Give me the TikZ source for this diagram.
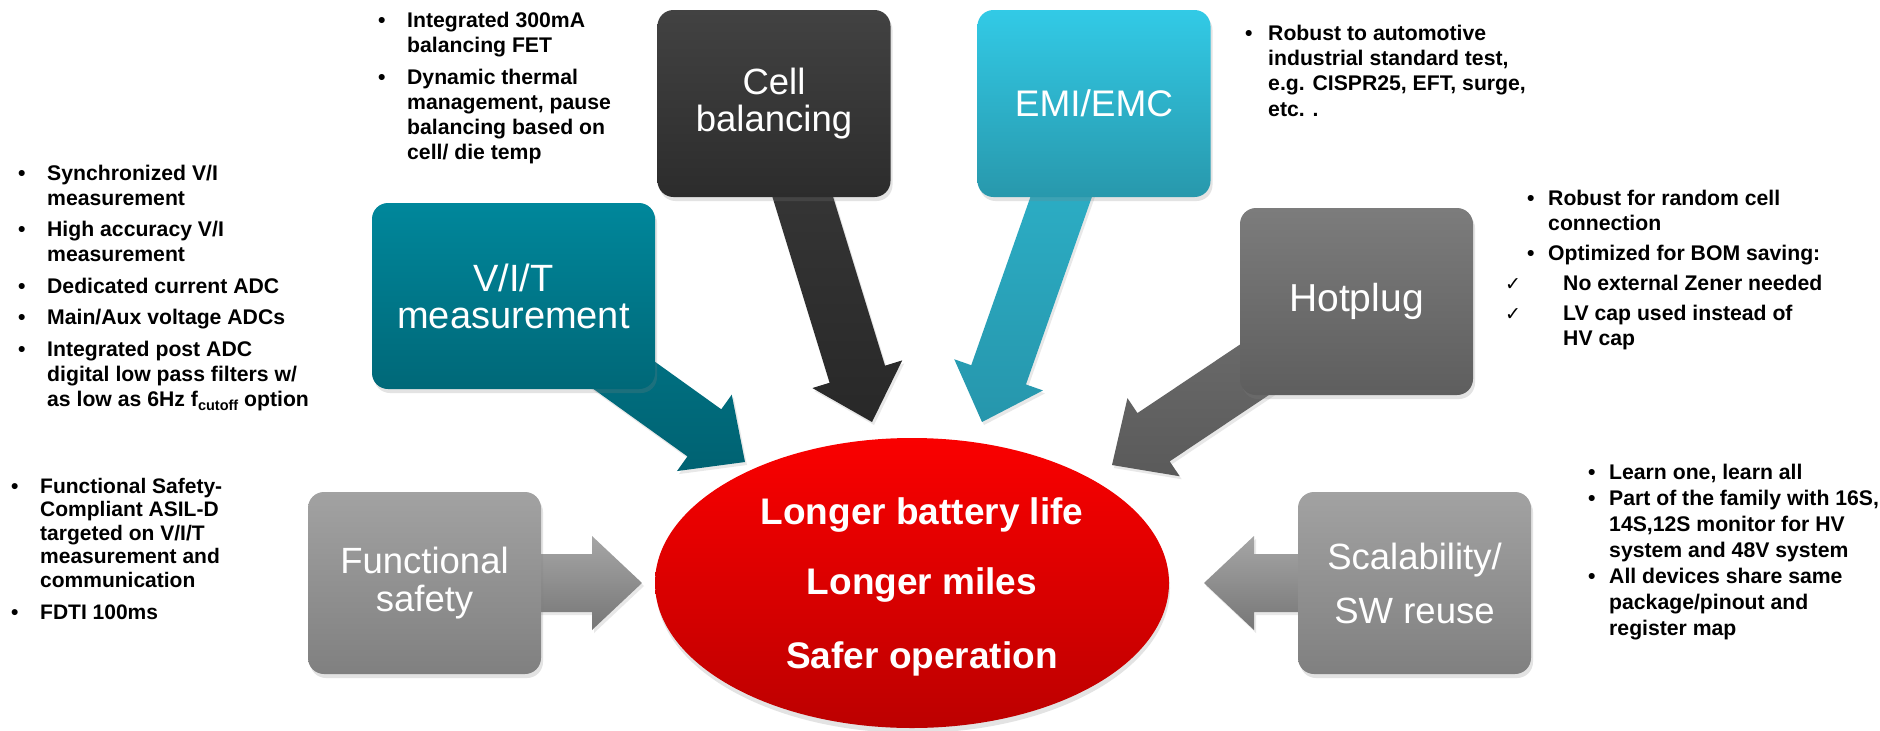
\documentclass[tikz,border=0pt]{standalone}
\usepackage{fontspec}
\setmainfont{Liberation Sans}
\newfontfamily\symfont{DejaVu Sans}
\usetikzlibrary{calc,shadows,shapes.geometric}
\pgfdeclarelayer{background}
\pgfsetlayers{background,main}

% box and arrow colours
\definecolor{vitTop}{RGB}{0,135,155}
\definecolor{vitBot}{RGB}{0,104,120}
\definecolor{vitArrA}{RGB}{0,122,140}
\definecolor{vitArrB}{RGB}{0,98,114}
\definecolor{cellTop}{RGB}{66,66,66}
\definecolor{cellBot}{RGB}{44,44,44}
\definecolor{cellArrA}{RGB}{58,58,58}
\definecolor{cellArrB}{RGB}{40,40,40}
\definecolor{emiTop}{RGB}{50,202,230}
\definecolor{emiBot}{RGB}{40,152,172}
\definecolor{emiArrA}{RGB}{46,182,206}
\definecolor{emiArrB}{RGB}{38,150,172}
\definecolor{hotTop}{RGB}{124,124,124}
\definecolor{hotBot}{RGB}{94,94,94}
\definecolor{hotArrA}{RGB}{112,112,112}
\definecolor{hotArrB}{RGB}{90,90,90}
\definecolor{greyTop}{RGB}{162,162,162}
\definecolor{greyBot}{RGB}{128,128,128}
\definecolor{greyArrA}{RGB}{166,166,166}
\definecolor{greyArrB}{RGB}{118,118,118}
\definecolor{goalTop}{RGB}{250,0,0}
\definecolor{goalBot}{RGB}{188,0,0}

% wide block arrow from the centre of node #1 to coordinate #2
\newcommand\blockarrow[3]{%
  \coordinate (#1-#2-base) at ($(#2)!50pt!(#1.center)$);
  \path[#3] ($(#1.center)!29pt!90:(#2)$)
    -- ($(#1-#2-base)!29pt!90:(#2)$)
    -- ($(#1-#2-base)!47pt!90:(#2)$)
    -- (#2)
    -- ($(#1-#2-base)!47pt!-90:(#2)$)
    -- ($(#1-#2-base)!29pt!-90:(#2)$)
    -- ($(#1.center)!29pt!-90:(#2)$) -- cycle;
}
\newcommand\itm[1]{\makebox[#1][l]{•}}
\newcommand\chk[1]{\makebox[#1][l]{\symfont\fontsize{19}{19}\selectfont ✓}}

\begin{document}
\begin{tikzpicture}[x=1pt,y=-1pt,
  box/.style={rectangle, rounded corners=16pt, inner sep=0pt, align=center,
    text=white, minimum width=233pt, minimum height=187pt,
    drop shadow={shadow xshift=2pt, shadow yshift=-4pt, opacity=0.22}},
  arrshadow/.style={drop shadow={shadow xshift=2pt, shadow yshift=-3pt, opacity=0.18}},
  notes/.style={anchor=north west, inner sep=0pt, align=left},
  goalline/.style={anchor=base, text=white, font=\bfseries\fontsize{37}{40}\selectfont}
]
\useasboundingbox (0,0) rectangle (1880,731);

% feature boxes
\node[box, minimum width=283pt, minimum height=186pt, top color=vitTop, bottom color=vitBot,
  font=\fontsize{38}{37}\selectfont] (vit) at (513.5,296) {V/I/T\\measurement};
\node[box, top color=cellTop, bottom color=cellBot,
  font=\fontsize{36.5}{37}\selectfont] (cell) at (774,103.5) {Cell\\balancing};
\node[box, top color=emiTop, bottom color=emiBot,
  font=\fontsize{37}{38}\selectfont] (emi) at (1094,103.5) {EMI/EMC};
\node[box, top color=hotTop, bottom color=hotBot,
  font=\fontsize{39}{40}\selectfont] (hot) at (1356.5,301.5) {Hotplug};
\node[box, minimum height=182pt, top color=greyTop, bottom color=greyBot,
  font=\fontsize{36.5}{38}\selectfont] (fs) at (424.5,583) {Functional\\safety};
\node[box, minimum height=182pt, top color=greyTop, bottom color=greyBot,
  font=\fontsize{36.5}{38}\selectfont] (sc) at (1414.5,583) {Scalability/\\[16pt]SW reuse};

% arrow tips
\coordinate (tipvit) at (745,462);
\coordinate (tipcell) at (872,422);
\coordinate (tipemi) at (982,422);
\coordinate (tiphot) at (1112,465);
\coordinate (tipfs) at (642,583);
\coordinate (tipsc) at (1204,583);

\begin{pgfonlayer}{background}
  \fill[white] (0,0) rectangle (1880,731);
  \blockarrow{vit}{tipvit}{arrshadow, top color=vitArrA, bottom color=vitArrB}
  \blockarrow{cell}{tipcell}{arrshadow, top color=cellArrA, bottom color=cellArrB}
  \blockarrow{emi}{tipemi}{arrshadow, top color=emiArrA, bottom color=emiArrB}
  \blockarrow{hot}{tiphot}{arrshadow, top color=hotArrA, bottom color=hotArrB}
  \blockarrow{fs}{tipfs}{arrshadow, top color=greyArrA, bottom color=greyArrB}
  \blockarrow{sc}{tipsc}{arrshadow, top color=greyArrA, bottom color=greyArrB}
\end{pgfonlayer}

% central goal
\node[ellipse, inner sep=0pt, minimum width=514pt, minimum height=290pt,
  top color=goalTop, bottom color=goalBot,
  drop shadow={shadow xshift=1pt, shadow yshift=-5pt, opacity=0.22}] (goal) at (912,583) {};
\node[goalline] (goal1) at (922,524) {Longer battery life};
\node[goalline] (goal2) at (922,594) {Longer miles};
\node[goalline] (goal3) at (922,668) {Safer operation};

% notes
\node[notes, font=\bfseries\fontsize{21.2}{25}\selectfont] (vitnotes) at (18,162.5) {%
\begin{tabular}{@{}l@{}}
\itm{29pt}Synchronized V/I\\
\hspace{29pt}measurement\\[6.5pt]
\itm{29pt}High accuracy V/I\\
\hspace{29pt}measurement\\[6.5pt]
\itm{29pt}Dedicated current ADC\\[6.5pt]
\itm{29pt}Main/Aux voltage ADCs\\[6.5pt]
\itm{29pt}Integrated post ADC\\
\hspace{29pt}digital low pass filters w/\\
\hspace{29pt}as low as 6Hz f\raisebox{-4pt}{\fontsize{14.5}{15}\selectfont cutoff} option
\end{tabular}};

\node[notes, font=\bfseries\fontsize{21}{23.5}\selectfont] (fsnotes) at (11,476.5) {%
\begin{tabular}{@{}l@{}}
\itm{29pt}Functional Safety-\\
\hspace{29pt}Compliant ASIL-D\\
\hspace{29pt}targeted on V/I/T\\
\hspace{29pt}measurement and\\
\hspace{29pt}communication\\[8.5pt]
\itm{29pt}FDTI 100ms
\end{tabular}};

\node[notes, font=\bfseries\fontsize{21.2}{25}\selectfont] (cellnotes) at (378,9.5) {%
\begin{tabular}{@{}l@{}}
\itm{29pt}Integrated 300mA\\
\hspace{29pt}balancing FET\\[7pt]
\itm{29pt}Dynamic thermal\\
\hspace{29pt}management, pause\\
\hspace{29pt}balancing based on\\
\hspace{29pt}cell/ die temp
\end{tabular}};

\node[notes, font=\bfseries\fontsize{21.2}{25.3}\selectfont] (eminotes) at (1245,22.3) {%
\begin{tabular}{@{}l@{}}
\itm{23pt}Robust to automotive\\
\hspace{23pt}industrial standard test,\\
\hspace{23pt}e.g. CISPR25, EFT, surge,\\
\hspace{23pt}etc. .
\end{tabular}};

\node[notes, font=\bfseries\fontsize{21.2}{25}\selectfont] (hotnotes) at (1505,187.5) {%
\begin{tabular}{@{}l@{}}
\hspace{22pt}\itm{21pt}Robust for random cell\\
\hspace{43pt}connection\\[5pt]
\hspace{22pt}\itm{21pt}Optimized for BOM saving:\\[5pt]
\chk{58pt}No external Zener needed\\[5pt]
\chk{58pt}LV cap used instead of\\
\hspace{58pt}HV cap
\end{tabular}};

\node[notes, font=\bfseries\fontsize{21.2}{26}\selectfont] (scnotes) at (1588,460.8) {%
\begin{tabular}{@{}l@{}}
\itm{21pt}Learn one, learn all\\
\itm{21pt}Part of the family with 16S,\\
\hspace{21pt}14S,12S monitor for HV\\
\hspace{21pt}system and 48V system\\
\itm{21pt}All devices share same\\
\hspace{21pt}package/pinout and\\
\hspace{21pt}register map
\end{tabular}};
\end{tikzpicture}
\end{document}
